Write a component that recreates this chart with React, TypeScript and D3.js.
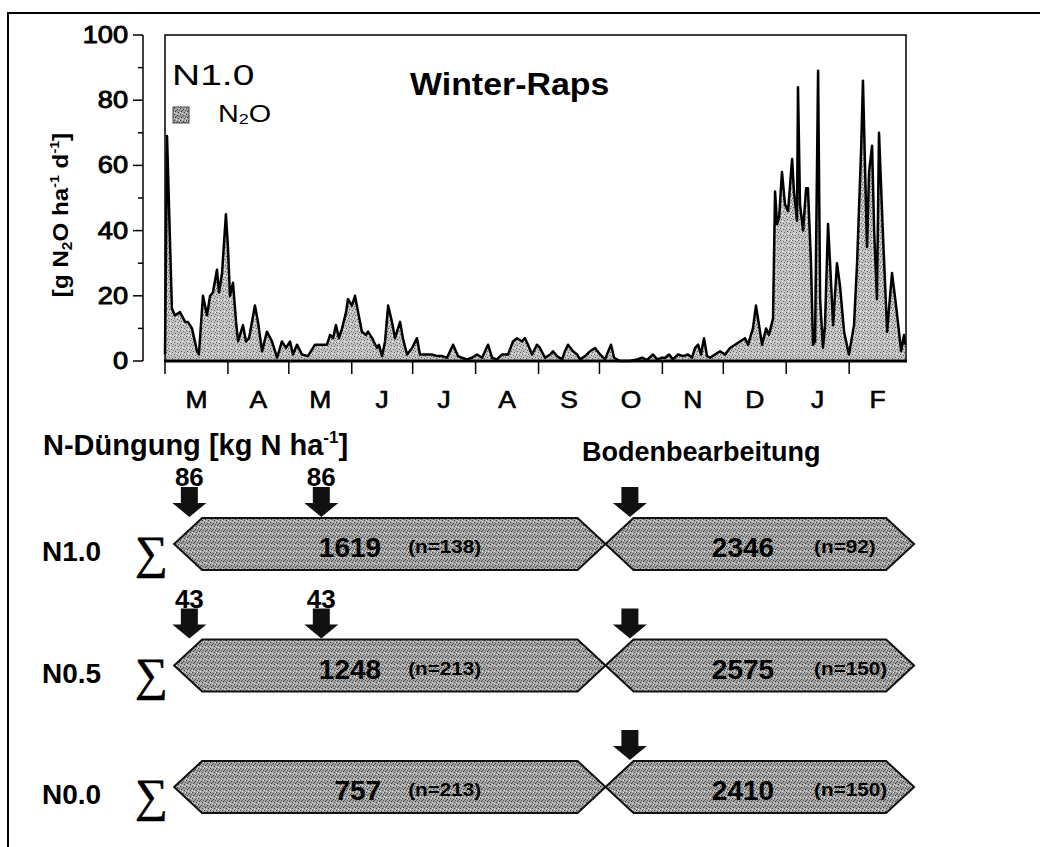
import React from 'react';
import * as d3 from 'd3';

// N2O flux, N1.0 plot, Winter-Raps. [day since 1 March, g N2O ha-1 d-1]
const fluxN10: [number, number][] = [
  [0, 2], [1, 69], [3.4, 16], [4.9, 14], [7.4, 15], [9.9, 12], [11.3, 12], [13.3, 10], [15.8, 3], [16.7, 2],
  [18.7, 20], [20.7, 14], [22.2, 20], [23.6, 21], [25.6, 28], [26.6, 21], [28.1, 27], [30, 45], [31, 35], [32, 20],
  [33.5, 24], [35, 12], [36, 6], [38.4, 11], [39.9, 6], [41.4, 7], [44.3, 17], [45.8, 12], [47.8, 3], [50.2, 9],
  [52.7, 6], [55.2, 1], [57.6, 6], [59.6, 4], [61.6, 6], [63, 2], [65, 5], [67.5, 2], [70.4, 1.5], [73.9, 5],
  [76.4, 5], [79.8, 5], [81.3, 8], [82.8, 7], [84.2, 11], [85.7, 7], [87.2, 10], [89.2, 15], [90.1, 19], [92.1, 17],
  [93.6, 20], [95.1, 15], [97, 9], [99, 8], [100, 9], [102, 7], [104.4, 4], [105.4, 5], [106.9, 1.5], [108.4, 6],
  [109.9, 17], [111.8, 12], [113.3, 7], [115.8, 12], [117.2, 7], [119.2, 2], [121.7, 4], [124.1, 7], [125.6, 2], [128.1, 2],
  [131.5, 2], [134, 1.5], [136.5, 1.5], [138.9, 1], [141.9, 5], [144.3, 1.5], [146.3, 1], [148.8, 0.5], [151.2, 1], [153.7, 2],
  [156.2, 1], [159.1, 5], [161.1, 1], [163.5, 0.5], [166, 2], [169, 2], [171.4, 6], [173.4, 7], [175.9, 6], [177.3, 7],
  [178.8, 5], [180.8, 2], [183.2, 5], [184.7, 4], [187.2, 1], [189.7, 2], [191.1, 3], [193.1, 1.5], [195.6, 0.5], [197, 3],
  [198.5, 5], [201, 3], [203, 2], [204.4, 0.5], [206.9, 1.5], [209.4, 3], [211.8, 4], [214.3, 2], [216.7, 0.5], [219.7, 5],
  [221.2, 1], [224.1, 0], [229, 0], [232.5, 0.5], [235, 1], [237.4, 0.3], [240.4, 2], [242.4, 0.5], [244.8, 1], [246.4, 1],
  [248.3, 2], [250.2, 0.5], [252.7, 2], [255.2, 1.5], [257.6, 2], [259.6, 1], [261.1, 4], [262.6, 5], [264, 2], [265.5, 7],
  [267, 1.5], [268.5, 1], [270.9, 2], [273.4, 3], [275.9, 2], [278.3, 4], [280.8, 5], [283.2, 6], [285.7, 7], [287.2, 5],
  [289.6, 10], [291.1, 17], [292.6, 11], [294.1, 5], [296.1, 10], [297.5, 8], [299.5, 13], [300.5, 52], [301.5, 42], [302.5, 44],
  [303.9, 58], [305.4, 48], [306.9, 46], [308.9, 62], [309.8, 52], [311.3, 43], [311.8, 84], [312.8, 48], [314.3, 40], [315.8, 53],
  [316.7, 53], [318.2, 30], [319.2, 5], [320.2, 6], [321.7, 89], [322.7, 19], [324.1, 4], [325.1, 11], [326.6, 42], [327.6, 30],
  [329.1, 11], [331, 30], [332.5, 23], [334.5, 9], [336.9, 2], [339.4, 11], [340.9, 30], [342.9, 65], [343.8, 86], [344.8, 60],
  [345.8, 35], [346.8, 58], [348.3, 66], [349.3, 40], [350.7, 19], [351.7, 70], [353.7, 38], [355.7, 9], [358.1, 27], [360.1, 17],
  [362.6, 3], [364, 8], [364.5, 5],
];

const monthLabels = ['M', 'A', 'M', 'J', 'J', 'A', 'S', 'O', 'N', 'D', 'J', 'F'];
const yTickLabels = [0, 20, 40, 60, 80, 100];

const treatments = ['N1.0', 'N0.5', 'N0.0'];
const fertDays = [12, 77]; // days of the two N applications
const fertAmounts = [[86, 86], [43, 43], []];
const tillageDay = 229;
const periodDays = [4.5, 217, 369]; // start, split, end of the summation periods
const sumSummer = [1619, 1248, 757];
const nSummer = [138, 213, 213];
const sumWinter = [2346, 2575, 2410];
const nWinter = [92, 150, 150];

const SANS = '"Liberation Sans", Arial, Helvetica, sans-serif';
const SERIF = '"Liberation Serif", "Times New Roman", serif';

const start = new Date(1997, 2, 1);
const end = new Date(1998, 2, 1);
const dayToDate = (d: number) => new Date(start.getTime() + d * 864e5);

function Label({ x, y, size, bold = false, anchor = 'start', sx = 1, rotate = 0, family = SANS, heavy = 0, children }: any) {
  return (
    <text
      transform={`translate(${x},${y})${rotate ? ` rotate(${rotate})` : ''} scale(${sx},1)`}
      fontSize={size}
      fontWeight={bold ? 'bold' : 'normal'}
      textAnchor={anchor}
      fontFamily={family}
      fill="#000"
      stroke={heavy ? '#000' : 'none'}
      strokeWidth={heavy}
    >
      {children}
    </text>
  );
}

function Arrow({ x, tip }: { x: number; tip: number }) {
  const sw = 8.5, hw = 17, hh = 14, sh = 16;
  const p = [
    [x - sw, tip - hh - sh], [x + sw, tip - hh - sh], [x + sw, tip - hh], [x + hw, tip - hh],
    [x, tip], [x - hw, tip - hh], [x - sw, tip - hh],
  ];
  return <path d={'M' + p.map((q) => q.join(',')).join('L') + 'Z'} fill="#111" />;
}

export default function App() {
  const x = d3.scaleTime().domain([start, end]).range([165, 906]);
  const y = d3.scaleLinear().domain([0, 100]).range([361, 35]);
  const rowY = d3.scalePoint<string>().domain(treatments).range([544, 787]);

  const area = d3.area<[number, number]>()
    .x((d) => x(dayToDate(d[0])))
    .y0(y(0))
    .y1((d) => y(d[1]));
  const line = d3.line<[number, number]>()
    .x((d) => x(dayToDate(d[0])))
    .y((d) => y(d[1]));

  const months = d3.timeMonth.range(start, end);
  const yTicks = y.ticks(10);

  const barH = 26, tipW = 28;
  const hexagon = (xl: number, xr: number, c: number) =>
    `M${xl},${c}L${xl + tipW},${c - barH}L${xr - tipW},${c - barH}L${xr},${c}L${xr - tipW},${c + barH}L${xl + tipW},${c + barH}Z`;

  const xs = periodDays.map((d) => x(dayToDate(d)));

  return (
    <svg width={1040} height={847} style={{ position: 'absolute', left: 0, top: 0, background: '#fff' }}>
      <defs>
        <pattern id="stipLight" width="6" height="6" patternUnits="userSpaceOnUse">
          <rect width="6" height="6" fill="#c2c2c2" />
          <rect x="0" y="0" width="1" height="1" fill="#555" />
          <rect x="3" y="1" width="1" height="1" fill="#666" />
          <rect x="1" y="3" width="1" height="1" fill="#555" />
          <rect x="4" y="4" width="1" height="1" fill="#666" />
          <rect x="5" y="2" width="1" height="1" fill="#777" />
          <rect x="2" y="5" width="1" height="1" fill="#fff" />
          <rect x="5" y="0" width="1" height="1" fill="#eee" />
        </pattern>
        <pattern id="stipDark" width="6" height="6" patternUnits="userSpaceOnUse">
          <rect width="6" height="6" fill="#a2a2a2" />
          <rect x="0" y="0" width="1" height="1" fill="#333" />
          <rect x="3" y="1" width="1" height="1" fill="#444" />
          <rect x="1" y="3" width="1" height="1" fill="#333" />
          <rect x="4" y="4" width="1" height="1" fill="#444" />
          <rect x="5" y="2" width="1" height="1" fill="#555" />
          <rect x="2" y="2" width="1" height="1" fill="#555" />
          <rect x="2" y="5" width="1" height="1" fill="#e8e8e8" />
          <rect x="5" y="0" width="1" height="1" fill="#ddd" />
          <rect x="0" y="4" width="1" height="1" fill="#e0e0e0" />
        </pattern>
      </defs>

      {/* outer frame (cut off at right and bottom) */}
      <path d="M8,847L8,13L1040,13" fill="none" stroke="#000" strokeWidth={2} />

      {/* y axis */}
      <line x1={143} x2={143} y1={y(0)} y2={y(100)} stroke="#000" strokeWidth={1.5} />
      {yTicks.map((t) => (
        <line key={t} x1={t % 20 === 0 ? 133 : 138} x2={143} y1={y(t)} y2={y(t)} stroke="#000" strokeWidth={1.5} />
      ))}
      {yTickLabels.map((t) => (
        <Label key={t} x={128} y={y(t) + 8} size={23} anchor="end" sx={1.18} heavy={0.9}>{t}</Label>
      ))}
      <Label x={68} y={215} size={22} bold anchor="middle" rotate={-90} sx={1.1}>
        [g N<tspan fontSize={14} dy={4}>2</tspan><tspan dy={-4}>O ha</tspan>
        <tspan fontSize={13} dy={-9}>-1</tspan><tspan dy={9}> d</tspan>
        <tspan fontSize={13} dy={-9}>-1</tspan><tspan dy={9}>]</tspan>
      </Label>

      {/* flux */}
      <path d={area(fluxN10) || ''} fill="url(#stipLight)" />
      <path d={line(fluxN10) || ''} fill="none" stroke="#000" strokeWidth={2.5} strokeLinejoin="round" />

      {/* plot frame */}
      <rect x={165} y={35} width={741} height={326} fill="none" stroke="#000" strokeWidth={1.5} />
      <line x1={164} x2={907} y1={361} y2={361} stroke="#000" strokeWidth={3} />
      {months.map((m) => (
        <line key={+m} x1={x(m)} x2={x(m)} y1={361} y2={374} stroke="#000" strokeWidth={1.5} />
      ))}
      {months.map((m, i) => (
        <Label key={'l' + i} x={x(new Date((+m + +d3.timeMonth.offset(m, 1)) / 2))} y={408} size={23} anchor="middle" sx={1.15} heavy={0.6}>
          {monthLabels[i]}
        </Label>
      ))}

      <Label x={172} y={85} size={30} sx={1.3}>N1.0</Label>
      <rect x={173} y={107} width={16} height={16} fill="url(#stipDark)" stroke="#444" strokeWidth={1} />
      <Label x={218} y={122} size={24} sx={1.2}>
        N<tspan fontSize={15} dy={2}>2</tspan><tspan dy={-2}>O</tspan>
      </Label>
      <Label x={410} y={95} size={32} bold sx={1.06}>Winter-Raps</Label>

      {/* management */}
      <Label x={43} y={455} size={29} bold>
        N-Düngung [kg N ha<tspan fontSize={17} dy={-12}>-1</tspan><tspan dy={12}>]</tspan>
      </Label>
      <Label x={582} y={461} size={27} bold>Bodenbearbeitung</Label>

      {treatments.map((t, i) => {
        const c = rowY(t) as number;
        const top = c - barH - 1;
        return (
          <g key={t}>
            <Label x={42} y={c + 17} size={28} bold>{t}</Label>
            <Label x={135} y={c + 24} size={46} family={SERIF} heavy={0.6}>∑</Label>
            <path d={hexagon(xs[0], xs[1], c)} fill="url(#stipDark)" stroke="#111" strokeWidth={2} />
            <path d={hexagon(xs[1], xs[2], c)} fill="url(#stipDark)" stroke="#111" strokeWidth={2} />
            <Label x={xs[0] + 207} y={c + 13} size={28} bold anchor="end">{sumSummer[i]}</Label>
            <Label x={xs[0] + 234} y={c + 9} size={18} bold sx={1.15}>(n={nSummer[i]})</Label>
            <Label x={xs[2] - 140} y={c + 13} size={28} bold anchor="end">{sumWinter[i]}</Label>
            <Label x={xs[2] - 100} y={c + 9} size={18} bold sx={1.15}>(n={nWinter[i]})</Label>
            {fertAmounts[i].map((a, j) => {
              const ax = x(dayToDate(fertDays[j]));
              return (
                <g key={j}>
                  <Label x={ax} y={top - 31} size={26} bold anchor="middle">{a}</Label>
                  <Arrow x={ax} tip={top} />
                </g>
              );
            })}
            <Arrow x={x(dayToDate(tillageDay))} tip={top} />
          </g>
        );
      })}
    </svg>
  );
}
